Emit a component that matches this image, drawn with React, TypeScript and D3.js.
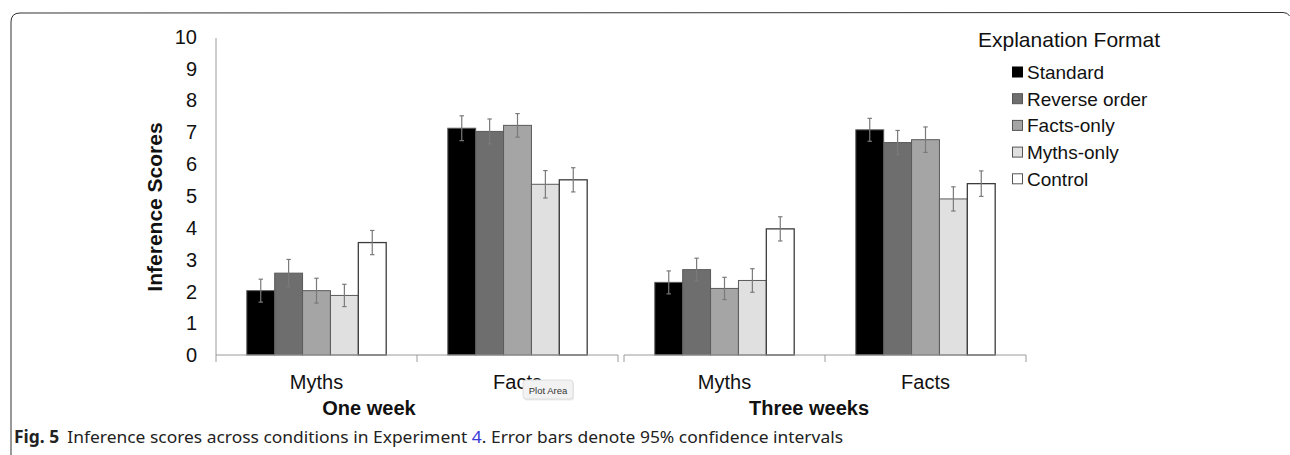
import React from "react";
import * as d3 from "d3";

const periods = ["One week", "Three weeks"];
const categories = ["Myths", "Facts"];
const seriesNames = ["Standard", "Reverse order", "Facts-only", "Myths-only", "Control"];
const seriesColors = ["#000000", "#6e6e6e", "#a5a5a5", "#e0e0e0", "#ffffff"];
const yTicks = [0, 1, 2, 3, 4, 5, 6, 7, 8, 9, 10];

// values[period][category][series]
const oneWeekMyths = [2.02, 2.57, 2.02, 1.87, 3.53];
const oneWeekFacts = [7.12, 7.02, 7.21, 5.36, 5.5];
const threeWeeksMyths = [2.28, 2.68, 2.09, 2.34, 3.96];
const threeWeeksFacts = [7.07, 6.67, 6.76, 4.9, 5.38];
// 95% CI half-widths
const oneWeekMythsErr = [0.36, 0.43, 0.39, 0.35, 0.38];
const oneWeekFactsErr = [0.39, 0.39, 0.37, 0.43, 0.38];
const threeWeeksMythsErr = [0.36, 0.36, 0.35, 0.37, 0.38];
const threeWeeksFactsErr = [0.36, 0.38, 0.4, 0.38, 0.4];

const values = [
  [oneWeekMyths, oneWeekFacts],
  [threeWeeksMyths, threeWeeksFacts],
];
const errors = [
  [oneWeekMythsErr, oneWeekFactsErr],
  [threeWeeksMythsErr, threeWeeksFactsErr],
];

const W = 1290;
const H = 455;
const FONT = "Liberation Sans, Arial, Helvetica, sans-serif";

export default function App() {
  const x0 = 216;
  const x1 = 1026;
  const yBase = 355;
  const yTop = 36.5;

  const y = d3.scaleLinear().domain([0, 10]).range([yBase, yTop]);
  const periodScale = d3
    .scaleBand<string>()
    .domain(periods)
    .range([x0, x1])
    .paddingInner(6 / 408);
  const catScale = d3
    .scaleBand<string>()
    .domain(categories)
    .range([0, periodScale.bandwidth()]);
  const serScale = d3
    .scaleBand<string>()
    .domain(seriesNames)
    .range([0, catScale.bandwidth()])
    .paddingInner(0)
    .paddingOuter(1.105);

  const axisColor = "#9a9a9a";
  const tickLen = 7;

  const bars: React.ReactNode[] = [];
  const errs: React.ReactNode[] = [];
  periods.forEach((p, pi) => {
    categories.forEach((c, ci) => {
      seriesNames.forEach((s, si) => {
        const v = values[pi][ci][si];
        const e = errors[pi][ci][si];
        const bx = (periodScale(p) as number) + (catScale(c) as number) + (serScale(s) as number);
        const bw = serScale.bandwidth();
        bars.push(
          <rect
            key={`b-${pi}-${ci}-${si}`}
            x={bx}
            y={y(v)}
            width={bw}
            height={yBase - y(v)}
            fill={seriesColors[si]}
            stroke={si === 4 ? "#3c3c3c" : "#5a5a5a"}
            strokeWidth={si === 4 ? 1.3 : 1}
          />
        );
        const cx = bx + bw / 2;
        errs.push(
          <g key={`e-${pi}-${ci}-${si}`} stroke="#7a7a7a" strokeWidth={1.2}>
            <line x1={cx} x2={cx} y1={y(v + e)} y2={y(v - e)} />
            <line x1={cx - 2.2} x2={cx + 2.2} y1={y(v + e)} y2={y(v + e)} />
            <line x1={cx - 2.2} x2={cx + 2.2} y1={y(v - e)} y2={y(v - e)} />
          </g>
        );
      });
    });
  });

  const periodLabelX = [369, 809];

  return (
    <svg
      width={W}
      height={H}
      style={{ position: "absolute", left: 0, top: 0, background: "#fff" }}
      fontFamily={FONT}
    >
      <rect x={0} y={0} width={W} height={H} fill="#fff" />
      {/* frame */}
      <path
        d={`M11,${H} L11,22 Q11,13 20,13 L1283,12.5 Q1288,12.5 1289.5,16`}
        fill="none"
        stroke="#333"
        strokeWidth={1}
      />

      {/* y axis */}
      <line x1={x0} x2={x0} y1={38} y2={yBase} stroke={axisColor} strokeWidth={1} />
      {yTicks.map((t) => (
        <text
          key={`yt-${t}`}
          x={197}
          y={y(t)}
          dy="0.36em"
          textAnchor="end"
          fontSize={20}
          fill="#111"
        >
          {t}
        </text>
      ))}
      <text
        transform={`translate(162,${207}) rotate(-90)`}
        textAnchor="middle"
        fontSize={21}
        fontWeight="bold"
        fill="#111"
      >
        Inference Scores
      </text>

      {bars}
      {errs}

      {/* x axis panels */}
      {periods.map((p) => {
        const px = periodScale(p) as number;
        const pw = periodScale.bandwidth();
        return (
          <g key={`ax-${p}`} stroke={axisColor} strokeWidth={1}>
            <line x1={px} x2={px + pw} y1={yBase} y2={yBase} />
            <line x1={px} x2={px} y1={yBase} y2={yBase + tickLen} />
            <line x1={px + catScale.bandwidth()} x2={px + catScale.bandwidth()} y1={yBase} y2={yBase + tickLen} />
            <line x1={px + pw} x2={px + pw} y1={yBase} y2={yBase + tickLen} />
          </g>
        );
      })}
      {periods.map((p) =>
        categories.map((c) => (
          <text
            key={`xl-${p}-${c}`}
            x={(periodScale(p) as number) + (catScale(c) as number) + catScale.bandwidth() / 2}
            y={389}
            textAnchor="middle"
            fontSize={20}
            fill="#111"
          >
            {c}
          </text>
        ))
      )}
      {periods.map((p, i) => (
        <text
          key={`pl-${p}`}
          x={periodLabelX[i]}
          y={415}
          textAnchor="middle"
          fontSize={20}
          fontWeight="bold"
          fill="#111"
        >
          {p}
        </text>
      ))}

      {/* tooltip */}
      <g>
        <rect x={523} y={380} width={50} height={19} rx={3} fill="#000" opacity={0.08} transform="translate(1,1.5)" />
        <rect x={523} y={380} width={50} height={19} rx={3} fill="#f2f2f2" stroke="#d8d8d8" strokeWidth={0.8} />
        <text x={548} y={393.5} textAnchor="middle" fontSize={9.5} fill="#333">
          Plot Area
        </text>
      </g>

      {/* legend */}
      <text x={978} y={47} fontSize={21} fill="#111">
        Explanation Format
      </text>
      {seriesNames.map((s, i) => {
        const cy = 72 + i * 26.7;
        return (
          <g key={`lg-${s}`}>
            <rect
              x={1012.5}
              y={cy - 5}
              width={10}
              height={10}
              fill={seriesColors[i]}
              stroke={i === 0 ? "#000" : "#555"}
              strokeWidth={1}
            />
            <text x={1027} y={cy} dy="0.36em" fontSize={19} fill="#111">
              {s}
            </text>
          </g>
        );
      })}

      {/* caption */}
      <text
        x={14}
        y={443}
        fontSize={17}
        fontFamily="Noto Sans, Open Sans, sans-serif"
        fill="#222"
        textLength={829}
        lengthAdjust="spacingAndGlyphs"
      >
        <tspan fontWeight="bold">Fig. 5</tspan>
        <tspan dx={8}>Inference scores across conditions in Experiment </tspan>
        <tspan fill="#3a3ad6">4</tspan>
        <tspan>. Error bars denote 95% confidence intervals</tspan>
      </text>
    </svg>
  );
}
